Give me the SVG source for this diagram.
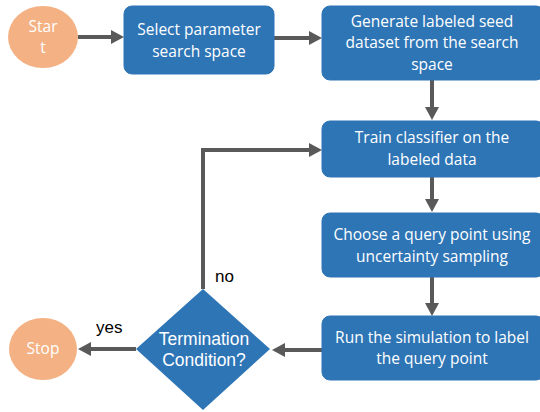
<svg xmlns="http://www.w3.org/2000/svg" width="540" height="412" viewBox="0 0 540 412">
<defs>
<style>
.box{fill:#2E75B6;stroke:#2E75B6;}
.oval{fill:#F4B183;}
.t{font-family:"Open Sans","Liberation Sans",sans-serif;font-size:15.5px;fill:#ffffff;text-anchor:middle;}
.d{font-family:"Liberation Sans",Arial,sans-serif;font-size:17.5px;fill:#ffffff;text-anchor:middle;}
.l{font-family:"Liberation Sans",Arial,sans-serif;font-size:17px;fill:#000000;}
.c{fill:none;stroke:#595959;stroke-width:4;}
</style>
<marker id="ah" markerUnits="userSpaceOnUse" markerWidth="13" markerHeight="14" refX="2" refY="7" orient="auto">
<path d="M0,0 L13,7 L0,14 z" fill="#595959"/>
</marker>
</defs>
<rect width="540" height="412" fill="#ffffff"/>
<g id="connectors">
<line class="c" x1="78" y1="37" x2="113" y2="37" marker-end="url(#ah)"/>
<line class="c" x1="274" y1="38" x2="311" y2="38" marker-end="url(#ah)"/>
<line class="c" x1="432" y1="80" x2="432" y2="109" marker-end="url(#ah)"/>
<line class="c" x1="432" y1="177" x2="432" y2="201" marker-end="url(#ah)"/>
<line class="c" x1="432" y1="277" x2="432" y2="305" marker-end="url(#ah)"/>
<line class="c" x1="322" y1="350" x2="283" y2="350" marker-end="url(#ah)"/>
<polyline class="c" points="203,289 203,150 311,150" marker-end="url(#ah)"/>
<line class="c" x1="136" y1="349" x2="89" y2="349" marker-end="url(#ah)"/>
<text class="l" x="96" y="333">yes</text>
<text class="l" x="215" y="282">no</text>
</g>
<g id="start">
<ellipse class="oval" cx="43" cy="37" rx="35" ry="31"/>
<text class="t" x="43" y="32">Star</text>
<text class="t" x="43" y="53">t</text>
</g>
<g id="select">
<rect class="box" x="124" y="6" width="150" height="68" rx="8"/>
<text class="t" x="199" y="35">Select parameter</text>
<text class="t" x="199" y="57">search space</text>
</g>
<g id="generate">
<rect class="box" x="322" y="6" width="222" height="74" rx="8"/>
<text class="t" x="432" y="27">Generate labeled seed</text>
<text class="t" x="432" y="48">dataset from the search</text>
<text class="t" x="432" y="70">space</text>
</g>
<g id="train">
<rect class="box" x="322" y="121" width="222" height="56" rx="8"/>
<text class="t" x="432" y="143">Train classifier on the</text>
<text class="t" x="432" y="165">labeled data</text>
</g>
<g id="choose">
<rect class="box" x="322" y="213" width="222" height="64" rx="8"/>
<text class="t" x="432" y="240">Choose a query point using</text>
<text class="t" x="432" y="262">uncertainty sampling</text>
</g>
<g id="run">
<rect class="box" x="322" y="316" width="222" height="64" rx="8"/>
<text class="t" x="432" y="343">Run the simulation to label</text>
<text class="t" x="432" y="364">the query point</text>
</g>
<g id="termination">
<polygon fill="#2E75B6" points="203,289 270,349 203,410 136,349"/>
<text class="d" x="204" y="345">Termination</text>
<text class="d" x="204" y="366">Condition?</text>
</g>
<g id="stop">
<ellipse class="oval" cx="43" cy="349" rx="34" ry="31"/>
<text class="t" x="43" y="354">Stop</text>
</g>
</svg>
